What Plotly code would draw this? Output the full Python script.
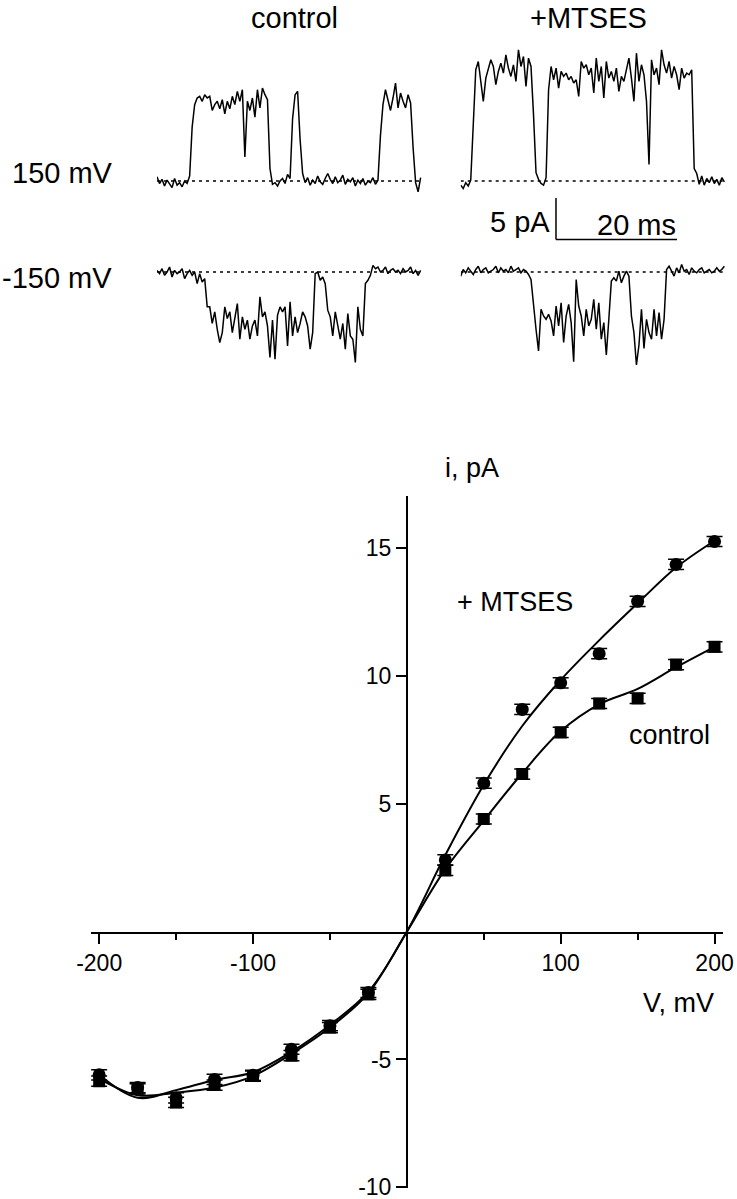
import numpy as np
import plotly.graph_objects as go

W, H = 737, 1199
FONT = "Liberation Sans, Arial, sans-serif"

# ---- single channel recordings (pA), sampled every DT ms ----
DT = 0.415

ctrl_p150 = [0.5, -0.3, 0.2, -0.6, 0.1, -0.4, -0.8, 0.3, -0.5, -0.2, -0.7, 0.0, -0.3, 0.6,
             6.5,
             9.2, 10.0, 10.2, 9.6, 10.4, 10.0, 10.2, 8.5, 9.2, 9.6, 8.7, 9.8, 8.1, 9.6, 8.7,
             10.2, 9.2, 10.8, 9.6, 11.0, 2.9, 9.6, 8.5, 10.0, 7.7, 11.0, 8.8, 11.2, 10.4, 9.8,
             1.5,
             -0.4, -0.2, -0.6, 0.0, 0.3, -0.3, 0.8, 0.3,
             7.5, 10.4, 10.8, 5.0, 0.9,
             -0.2, 0.4, -0.5, 0.1, -0.3, 0.6, -0.1, -0.4, 0.3, 0.9, 0.2, -0.3, 0.5, -0.2, 0.1,
             0.7, -0.4, 0.2, -0.1, 0.4, -0.6, 0.1, -0.3, 0.3, -0.5, 0.0, -0.2, 0.4, -0.4, 0.1,
             5.5, 9.2,
             11.0, 9.6, 8.5, 10.0, 11.8, 8.8, 10.6, 9.6, 8.8, 10.4, 9.4,
             4.0, -0.2, -1.3, 0.4]

mtses_p150 = [-0.5, -0.9, -0.2, -0.6, 0.1,
              6.0, 13.4,
              14.4, 12.0, 9.6, 12.4, 13.6, 14.6, 13.8, 11.6, 13.2, 14.2, 13.0, 15.2, 13.6, 12.6,
              14.0, 12.0, 15.8, 13.8, 15.0, 11.4, 14.8, 13.8,
              8.0, 1.0, 0.2, -0.3, -0.5, 0.4,
              11.0,
              13.8, 12.2, 13.6, 11.2, 13.2, 12.6, 13.0, 12.2, 12.6, 11.8, 12.2, 10.2, 14.4, 13.6,
              14.0, 12.8, 13.6, 10.6, 14.8, 12.0, 13.8, 10.0, 14.4, 12.4, 13.2, 12.0, 13.6, 10.8,
              12.6, 12.0, 13.6, 14.8, 12.4, 9.6, 15.4, 12.0, 14.0, 12.8, 9.6,
              2.0, 14.6,
              12.8, 13.6, 11.6, 15.8, 14.0, 13.0, 14.4, 12.4, 13.8, 12.8, 11.0, 13.6, 12.4, 13.0,
              12.8, 13.4,
              1.5,
              0.9, -0.4, 0.6, -0.5, 0.3, -0.2, 0.5, -0.3, 0.2, -0.5, 0.4, -0.1]

ctrl_m150 = [0.2, -0.2, 0.4, -0.4, 0.0, 0.6, -0.6, 0.2, -0.2, 0.0, 0.4, -0.8, -0.2, 0.2, -0.4, 0.0,
             -1.4, -0.2, -1.2, -0.8,
             -4.2,
             -4.2, -6.2, -4.8, -6.9, -8.5, -7.3, -4.2, -5.6, -4.8, -7.3, -5.4, -3.8, -8.1, -5.4,
             -6.9, -5.8, -8.1, -6.5, -5.8, -7.7, -3.0, -5.4, -4.8, -6.5, -10.3, -5.8, -10.5, -5.2,
             -4.2, -4.8, -4.2, -8.9, -3.6, -7.7, -5.4, -7.3, -6.2, -4.8, -5.4, -6.5, -9.3, -7.3,
             -0.2, 0.0, -1.0, -0.6, -1.4,
             -4.6,
             -5.4, -7.7, -4.8, -6.3, -8.1, -6.2, -9.3, -5.0, -7.7, -8.1, -10.9, -4.2, -6.9, -7.7,
             -1.4, -1.0, -0.4,
             0.8, 0.4, 0.6, 0.0, 0.2, 0.6, -0.2, 0.2, 0.4, 0.0, 0.2, -0.2, 0.4, 0.0, 0.2, 0.6,
             -0.2, 0.2, -0.4, 0.2]

mtses_m150 = [-0.5, 0.3, -0.1, 0.5, 0.1, -0.3, 0.3, 0.7, -0.1, 0.3, 0.5, -0.1, 0.1, 0.3, 0.7,
              -0.1, 0.5, 0.1, 0.3, -0.1, 0.7, 0.1, 0.3, 0.5, -0.1, 0.3, 0.1, -0.3,
              -0.9, -4.1,
              -6.9, -9.5, -4.5, -5.3, -5.7, -5.1, -5.9, -7.7, -4.1, -6.5, -3.7, -8.5, -5.3, -3.9,
              -6.1, -10.8, -0.9, -4.1, -5.3, -7.7, -4.5, -6.5, -5.7, -3.3, -6.9, -3.7, -8.1, -6.1,
              -10.0, -5.7,
              -1.1,
              -0.7, -1.1, 0.1, -1.3, -0.5, 0.1,
              -0.5,
              -5.3,
              -7.3, -11.2, -8.8, -4.5, -9.2, -5.7, -7.3, -8.1, -4.5, -7.7, -4.9, -8.1, -5.7,
              0.3,
              0.7, 0.1, -0.5, 0.5, -0.1, 0.9, 0.1, 0.3, -0.3, 0.5, 0.1, -0.1, 0.3, 0.5, -0.1,
              0.1, 0.3, -0.1, 0.1, 0.5, 0.1, 0.3, 0.7]

# ---- I-V relation ----
v_pts = [-200, -175, -150, -125, -100, -75, -50, -25, 25, 50, 75, 100, 125, 150, 175, 200]
i_mtses = [-5.6, -6.1, -6.5, -5.78, -5.62, -4.6, -3.68, -2.38, 2.81, 5.81, 8.70, 9.74,
           10.88, 12.93, 14.37, 15.27]
i_control = [-5.85, -6.15, -6.68, -6.0, -5.65, -4.85, -3.75, -2.45, 2.4, 4.41, 6.17, 7.80,
             8.93, 9.13, 10.45, 11.15]
err_mtses = [0.2] * len(v_pts)
err_control = [0.2] * len(v_pts)

v_fit = [-200, -175, -150, -125, -100, -75, -50, -25, 0, 25, 50, 75, 100, 125, 150, 175, 200]
fit_mtses = [-5.6, -6.5, -6.2, -5.8, -5.5, -4.7, -3.65, -2.35, 0, 3.0, 5.75, 8.05, 9.85,
             11.4, 12.85, 14.25, 15.3]
fit_control = [-5.75, -6.4, -6.3, -6.1, -5.65, -4.78, -3.75, -2.4, 0, 2.45, 4.35, 6.2, 7.85,
               8.9, 9.5, 10.35, 11.15]

x_ticks = [-200, -100, 100, 200]
y_ticks = [-10, -5, 5, 10, 15]


def px(x):
    return x / W


def py(y):
    return 1 - y / H


fig = go.Figure()

# fitted curves
for fit in (fit_mtses, fit_control):
    fig.add_trace(go.Scatter(x=v_fit, y=fit, mode="lines", line_shape="spline",
                             line=dict(color="black", width=2), hoverinfo="skip"))

err_style = dict(type="data", width=8, thickness=1.5, color="black")
fig.add_trace(go.Scatter(x=v_pts, y=i_mtses, mode="markers", name="+ MTSES",
                         marker=dict(symbol="circle", size=13, color="black"),
                         error_y=dict(array=err_mtses, **err_style)))
fig.add_trace(go.Scatter(x=v_pts, y=i_control, mode="markers", name="control",
                         marker=dict(symbol="square", size=12, color="black"),
                         error_y=dict(array=err_control, **err_style)))

# single channel traces
panels = [(ctrl_p150, "x2", "y2"), (mtses_p150, "x3", "y3"),
          (ctrl_m150, "x4", "y4"), (mtses_m150, "x5", "y5")]
for vals, xa, ya in panels:
    t = np.arange(len(vals)) * DT
    fig.add_trace(go.Scatter(x=[t[0], t[-1]], y=[0, 0], mode="lines", xaxis=xa, yaxis=ya,
                             line=dict(color="black", width=1.3, dash="3px,4px")))
    fig.add_trace(go.Scatter(x=t, y=vals, mode="lines", xaxis=xa, yaxis=ya,
                             line=dict(color="black", width=1.5)))

PX_MS = 6.05
PX_PA = 8.3
XR = 45
col_ctrl = [px(157), px(157 + XR * PX_MS)]
col_mtses = [px(460.7), px(460.7 + XR * PX_MS)]
row_p = dict(domain=[py(245), py(45)], range=[(181 - 245) / PX_PA, (181 - 45) / PX_PA])
row_m = dict(domain=[py(390), py(250)], range=[(272 - 390) / PX_PA, (272 - 250) / PX_PA])
hidden = dict(visible=False, fixedrange=True, automargin=False)

tick_font = dict(family=FONT, size=23, color="black")
fig.update_layout(
    template="none",
    width=W, height=H, margin=dict(l=0, r=0, t=0, b=0, pad=0), autosize=False,
    paper_bgcolor="white", plot_bgcolor="white", showlegend=False,
    font=dict(family=FONT, color="black"),
    xaxis=dict(domain=[px(90.7), px(723)], range=[-205.5, 205.5], anchor="free",
               position=py(932.5), showline=True, linecolor="black", linewidth=2,
               showgrid=False, zeroline=False, ticks="outside", ticklen=10, tickwidth=2,
               tickcolor="black", tickmode="array", tickvals=x_ticks,
               ticktext=[str(v) for v in x_ticks], tickfont=tick_font, automargin=False,
               ticklabeloverflow="allow",
               minor=dict(tickmode="array", tickvals=[-150, -50, 50, 150], ticklen=6,
                          tickwidth=2, tickcolor="black", ticks="outside", showgrid=False)),
    yaxis=dict(domain=[py(1188), py(496)], range=[-10.03, 17.05], anchor="free",
               position=px(407), showline=True, linecolor="black", linewidth=2,
               showgrid=False, zeroline=False, ticks="outside", ticklen=10, tickwidth=2,
               tickcolor="black", tickmode="array", tickvals=y_ticks,
               ticktext=[str(v) for v in y_ticks], tickfont=tick_font, automargin=False,
               ticklabeloverflow="allow"),
    xaxis2=dict(domain=col_ctrl, range=[0, XR], anchor="y2", **hidden),
    yaxis2=dict(anchor="x2", **row_p, **hidden),
    xaxis3=dict(domain=col_mtses, range=[0, XR], anchor="y3", **hidden),
    yaxis3=dict(anchor="x3", **row_p, **hidden),
    xaxis4=dict(domain=col_ctrl, range=[0, XR], anchor="y4", **hidden),
    yaxis4=dict(anchor="x4", **row_m, **hidden),
    xaxis5=dict(domain=col_mtses, range=[0, XR], anchor="y5", **hidden),
    yaxis5=dict(anchor="x5", **row_m, **hidden),
)

# scale bar: 5 pA / 20 ms
bar_t0, bar_i0 = 15.75, -2.05
fig.add_shape(type="line", xref="x3", yref="y3", x0=bar_t0, x1=bar_t0,
              y0=bar_i0, y1=bar_i0 - 5, line=dict(color="black", width=1.5))
fig.add_shape(type="line", xref="x3", yref="y3", x0=bar_t0, x1=bar_t0 + 20,
              y0=bar_i0 - 5, y1=bar_i0 - 5, line=dict(color="black", width=1.5))

big = dict(family=FONT, size=29, color="black")
lab = dict(family=FONT, size=27, color="black")
notes = [
    dict(text="control", x=px(294), y=py(0), font=big, xanchor="center", yanchor="top"),
    dict(text="+MTSES", x=px(588), y=py(0), font=big, xanchor="center", yanchor="top"),
    dict(text="150 mV", x=px(10), y=py(173), font=big, xanchor="left", yanchor="middle"),
    dict(text="-150 mV", x=px(0), y=py(278), font=big, xanchor="left", yanchor="middle"),
    dict(text="i, pA", x=px(443), y=py(468), font=lab, xanchor="left", yanchor="middle"),
    dict(text="V, mV", x=px(641), y=py(1003), font=lab, xanchor="left", yanchor="middle"),
]
for n in notes:
    fig.add_annotation(xref="paper", yref="paper", showarrow=False, **n)

fig.add_annotation(xref="x3", yref="y3", x=bar_t0 - 0.6, y=-4.9, text="5 pA",
                   xanchor="right", yanchor="middle", showarrow=False, font=big)
fig.add_annotation(xref="x3", yref="y3", x=bar_t0 + 13.3, y=-5.3, text="20 ms",
                   xanchor="center", yanchor="middle", showarrow=False, font=big)
fig.add_annotation(xref="x", yref="y", x=31, y=12.9, text="+ MTSES",
                   xanchor="left", yanchor="middle", showarrow=False, font=lab)
fig.add_annotation(xref="x", yref="y", x=143, y=7.7, text="control",
                   xanchor="left", yanchor="middle", showarrow=False, font=lab)

# the page body has a default 8px margin; remove it so the figure fills the window
fig.write_html("out.html", config={"displayModeBar": False},
               post_script="document.body.style.margin = '0';")
